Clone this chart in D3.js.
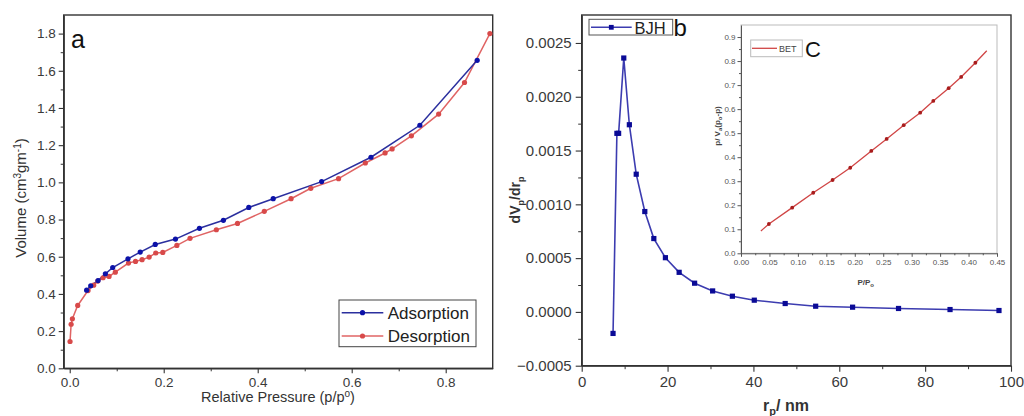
<!DOCTYPE html>
<html><head><meta charset="utf-8">
<script src="https://cdn.jsdelivr.net/npm/d3@7"></script>
<style>
html,body{margin:0;padding:0;background:#fff;}
svg{display:block;font-family:"Liberation Sans",Arial,sans-serif;}
</style></head>
<body><svg id="c" width="1024" height="416"></svg>
<script>
// ---- Panel a: N2 isotherm ----
const adsX = [0.036,0.0447,0.0603,0.0759,0.0915,0.124,0.150,0.182,0.225,0.276,0.327,0.381,0.433,0.536,0.641,0.745,0.867];
const adsY = [0.420,0.444,0.472,0.508,0.542,0.589,0.625,0.666,0.695,0.753,0.796,0.865,0.912,1.004,1.135,1.307,1.656];
const desX = [0.0007,0.003,0.0057,0.017,0.039,0.051,0.0596,0.0709,0.0837,0.097,0.125,0.140,0.154,0.169,0.183,0.198,0.228,0.256,0.312,0.357,0.414,0.471,0.513,0.572,0.629,0.671,0.686,0.727,0.785,0.840,0.894];
const desY = [0.144,0.237,0.266,0.338,0.418,0.447,0.469,0.487,0.494,0.517,0.566,0.575,0.584,0.598,0.620,0.623,0.661,0.699,0.745,0.779,0.844,0.912,0.968,1.020,1.104,1.158,1.180,1.250,1.367,1.537,1.800];
const aXTicks = [0,0.2,0.4,0.6,0.8];
const aYTicks = [0,0.2,0.4,0.6,0.8,1.0,1.2,1.4,1.6,1.8];
const aLegend = ["Adsorption","Desorption"];

// ---- Panel b: BJH pore size distribution ----
const bjhX = [7.3,8.2,8.6,9.8,11.1,12.7,14.7,16.8,19.5,22.7,26.3,30.5,35.1,40.2,47.4,54.5,63.1,73.8,85.8,97.2];
const bjhY = [-0.0002,0.00166,0.00166,0.00236,0.00174,0.00128,0.000933,0.000682,0.000504,0.000368,0.000267,0.000195,0.000146,0.000109,0.000078,0.000053,0.000044,0.000032,0.000022,0.000013];
const bXTicks = [0,20,40,60,80,100];
const bYTicks = [-0.0005,0,0.0005,0.001,0.0015,0.002,0.0025];

// ---- Inset c: BET plot ----
const betX = [0.049,0.090,0.127,0.161,0.192,0.229,0.256,0.286,0.315,0.338,0.365,0.387,0.412];
const betY = [0.122,0.190,0.252,0.305,0.356,0.426,0.476,0.533,0.585,0.634,0.687,0.734,0.793];
const betLineX = [0.035,0.432];
const betLineY = [0.093,0.843];
const cXTicks = [0,0.05,0.10,0.15,0.20,0.25,0.30,0.35,0.40,0.45];
const cYTicks = [0,0.1,0.2,0.3,0.4,0.5,0.6,0.7,0.8,0.9];

const svg = d3.select("#c");
const AX = "#333";

function styleAxis(g, fs, col){
  g.selectAll("path").attr("stroke", AX).attr("stroke-width",1.3);
  g.selectAll("line").attr("stroke", AX).attr("stroke-width",1.1);
  g.selectAll("text").attr("fill", col||"#3a3a3a").style("font-size", fs+"px").attr("font-family",'"Liberation Sans",Arial,sans-serif');
}
function minor(g){ g.selectAll("path").remove(); g.selectAll("text").remove(); g.selectAll("line").attr("stroke",AX).attr("stroke-width",1); }

// ================= Panel a =================
const xA = d3.scaleLinear([-0.0128,0.9],[63.7,492.7]);
const yA = d3.scaleLinear([0,1.9],[368.3,15]);
svg.append("rect").attr("x",63.7).attr("y",15).attr("width",429).attr("height",353.3)
  .attr("fill","none").attr("stroke",AX).attr("stroke-width",1.4);
svg.append("g").attr("transform","translate(0,368.3)")
  .call(d3.axisBottom(xA).tickValues(d3.range(0.1,0.9,0.2)).tickSize(3).tickSizeOuter(0)).call(minor);
svg.append("g").attr("transform","translate(63.7,0)")
  .call(d3.axisLeft(yA).tickValues(d3.range(0.1,1.9,0.2)).tickSize(3).tickSizeOuter(0)).call(minor);
svg.append("g").attr("transform","translate(0,368.3)")
  .call(d3.axisBottom(xA).tickValues(aXTicks).tickFormat(d3.format(".1f")).tickSize(5).tickPadding(4).tickSizeOuter(0))
  .call(g=>styleAxis(g,13.5));
svg.append("g").attr("transform","translate(63.7,0)")
  .call(d3.axisLeft(yA).tickValues(aYTicks).tickFormat(d3.format(".1f")).tickSize(5).tickPadding(3).tickSizeOuter(0))
  .call(g=>styleAxis(g,13.5));

const lineA = d3.line().x(d=>xA(d[0])).y(d=>yA(d[1]));
const ads = adsX.map((x,i)=>[x,adsY[i]]);
const des = desX.map((x,i)=>[x,desY[i]]);
const RED_L = "#e06464", RED_M = "#d84a4a", BLU_L = "#2b2f9e", BLU_M = "#0c12a8";
svg.append("path").datum(des).attr("d",lineA).attr("fill","none").attr("stroke",RED_L).attr("stroke-width",1.5);
svg.append("path").datum(ads).attr("d",lineA).attr("fill","none").attr("stroke",BLU_L).attr("stroke-width",1.5);
svg.append("g").selectAll("circle").data(des).join("circle")
  .attr("cx",d=>xA(d[0])).attr("cy",d=>yA(d[1])).attr("r",2.6).attr("fill",RED_M);
svg.append("g").selectAll("circle").data(ads).join("circle")
  .attr("cx",d=>xA(d[0])).attr("cy",d=>yA(d[1])).attr("r",2.6).attr("fill",BLU_M);

// legend a
svg.append("rect").attr("x",339).attr("y",300).attr("width",137).attr("height",46.7)
  .attr("fill","#fff").attr("stroke","#444").attr("stroke-width",1);
[[BLU_L,BLU_M,312.7,318.5],[RED_L,RED_M,336,341.5]].forEach((r,i)=>{
  svg.append("line").attr("x1",341.7).attr("x2",383.3).attr("y1",r[2]).attr("y2",r[2]).attr("stroke",r[0]).attr("stroke-width",1.5);
  svg.append("circle").attr("cx",362.5).attr("cy",r[2]).attr("r",2.6).attr("fill",r[1]);
  svg.append("text").attr("x",387.7).attr("y",r[3]).text(aLegend[i]).style("font-size","17px").attr("fill","#222");
});
svg.append("text").attr("x",71).attr("y",48).text("a").style("font-size","25px").attr("fill","#111");

// axis labels a
svg.append("text").attr("x",278).attr("y",402).attr("text-anchor","middle").style("font-size","14.5px").attr("fill","#333")
  .call(t=>{t.append("tspan").text("Relative Pressure (p/p");
            t.append("tspan").attr("dy",-5).style("font-size","10px").text("o");
            t.append("tspan").attr("dy",5).text(")");});
svg.append("text").attr("transform","translate(26,198) rotate(-90)").attr("text-anchor","middle").style("font-size","15px").attr("fill","#333")
  .call(t=>{t.append("tspan").text("Volume (cm");
            t.append("tspan").attr("dy",-5).style("font-size","10px").text("3");
            t.append("tspan").attr("dy",5).text("gm");
            t.append("tspan").attr("dy",-5).style("font-size","10px").text("-1");
            t.append("tspan").attr("dy",5).text(")");});

// ================= Panel b =================
const xB = d3.scaleLinear([0,100],[581.7,1011]);
const yB = d3.scaleLinear([-0.0005,0.00276],[365.7,15]);
svg.append("rect").attr("x",581.7).attr("y",15).attr("width",429.3).attr("height",350.7)
  .attr("fill","none").attr("stroke",AX).attr("stroke-width",1.4);
svg.append("g").attr("transform","translate(0,365.7)")
  .call(d3.axisBottom(xB).tickValues(d3.range(10,100,20)).tickSize(3.5).tickSizeOuter(0)).call(minor);
svg.append("g").attr("transform","translate(581.7,0)")
  .call(d3.axisLeft(yB).tickValues(d3.range(-0.00025,0.0027,0.0005)).tickSize(3.5).tickSizeOuter(0)).call(minor);
svg.append("g").attr("transform","translate(0,365.7)")
  .call(d3.axisBottom(xB).tickValues(bXTicks).tickFormat(d3.format("d")).tickSize(6).tickPadding(5).tickSizeOuter(0))
  .call(g=>styleAxis(g,15));
svg.append("g").attr("transform","translate(581.7,0)")
  .call(d3.axisLeft(yB).tickValues(bYTicks).tickFormat(d3.format(".4f")).tickSize(6).tickPadding(4).tickSizeOuter(0))
  .call(g=>styleAxis(g,15));

const bjh = bjhX.map((x,i)=>[x,bjhY[i]]);
const lineB = d3.line().x(d=>xB(d[0])).y(d=>yB(d[1]));
const BJH_L = "#3c3cb0", BJH_M = "#0a0a96";
svg.append("path").datum(bjh).attr("d",lineB).attr("fill","none").attr("stroke",BJH_L).attr("stroke-width",1.6);
svg.append("g").selectAll("rect").data(bjh).join("rect")
  .attr("x",d=>xB(d[0])-2.6).attr("y",d=>yB(d[1])-2.6).attr("width",5.2).attr("height",5.2).attr("fill",BJH_M);

// legend b
svg.append("rect").attr("x",589).attr("y",19.3).attr("width",83.7).attr("height",15.7)
  .attr("fill","#fff").attr("stroke","#555").attr("stroke-width",1);
svg.append("line").attr("x1",591).attr("x2",631.7).attr("y1",27.3).attr("y2",27.3).attr("stroke",BJH_L).attr("stroke-width",1.6);
svg.append("rect").attr("x",611.3-2.4).attr("y",27.3-2.4).attr("width",4.8).attr("height",4.8).attr("fill",BJH_M);
svg.append("text").attr("x",634.5).attr("y",33.5).text("BJH").style("font-size","16.5px").attr("fill","#222");
svg.append("text").attr("x",673.5).attr("y",36).text("b").style("font-size","24px").attr("fill","#111");

// axis labels b
svg.append("text").attr("x",786).attr("y",411).attr("text-anchor","middle").style("font-size","16px").style("font-weight","bold").attr("fill","#333")
  .call(t=>{t.append("tspan").text("r");
            t.append("tspan").attr("dy",4).style("font-size","11px").text("p");
            t.append("tspan").attr("dy",-4).text("/ nm");});
svg.append("text").attr("transform","translate(520,200) rotate(-90)").attr("text-anchor","middle").style("font-size","14px").style("font-weight","bold").attr("fill","#333")
  .call(t=>{t.append("tspan").text("dV");
            t.append("tspan").attr("dy",4).style("font-size","9px").text("p");
            t.append("tspan").attr("dy",-4).text("/dr");
            t.append("tspan").attr("dy",4).style("font-size","9px").text("p");});

// ================= Inset c =================
const xC = d3.scaleLinear([0,0.45],[741,997]);
const yC = d3.scaleLinear([0,0.95],[253.3,25]);
svg.append("rect").attr("x",741).attr("y",25).attr("width",256).attr("height",228.3)
  .attr("fill","none").attr("stroke","#bbb").attr("stroke-width",1);
svg.append("g").attr("transform","translate(0,253.3)")
  .call(d3.axisBottom(xC).tickValues(d3.range(0.025,0.45,0.05)).tickSize(2).tickSizeOuter(0)).call(minor)
  .selectAll("line").attr("stroke","#555");
svg.append("g").attr("transform","translate(741,0)")
  .call(d3.axisLeft(yC).tickValues(d3.range(0.05,0.95,0.1)).tickSize(2).tickSizeOuter(0)).call(minor)
  .selectAll("line").attr("stroke","#555");
svg.append("g").attr("transform","translate(0,253.3)")
  .call(d3.axisBottom(xC).tickValues(cXTicks).tickFormat(d3.format(".2f")).tickSize(3.5).tickPadding(3).tickSizeOuter(0))
  .call(g=>{styleAxis(g,8,"#555"); g.selectAll("path,line").attr("stroke","#555").attr("stroke-width",1);});
svg.append("g").attr("transform","translate(741,0)")
  .call(d3.axisLeft(yC).tickValues(cYTicks).tickFormat(d3.format(".1f")).tickSize(3.5).tickPadding(2).tickSizeOuter(0))
  .call(g=>{styleAxis(g,8,"#555"); g.selectAll("path,line").attr("stroke","#555").attr("stroke-width",1);});

const bet = betX.map((x,i)=>[x,betY[i]]);
const betLine = [[betLineX[0],betLineY[0]]].concat(bet,[[betLineX[1],betLineY[1]]]);
const lineC = d3.line().x(d=>xC(d[0])).y(d=>yC(d[1]));
const BET_L = "#d04545", BET_M = "#a81c1c";
svg.append("path").datum(betLine).attr("d",lineC).attr("fill","none").attr("stroke",BET_L).attr("stroke-width",1.3);
svg.append("g").selectAll("circle").data(bet).join("circle")
  .attr("cx",d=>xC(d[0])).attr("cy",d=>yC(d[1])).attr("r",1.9).attr("fill",BET_M);

// legend c
svg.append("rect").attr("x",750.7).attr("y",40).attr("width",51.6).attr("height",16.7)
  .attr("fill","#fff").attr("stroke","#bbb").attr("stroke-width",1);
svg.append("line").attr("x1",752).attr("x2",777).attr("y1",48.3).attr("y2",48.3).attr("stroke",BET_L).attr("stroke-width",1.3);
svg.append("text").attr("x",779).attr("y",51.6).text("BET").style("font-size","9px").attr("fill","#444");
svg.append("text").attr("x",805).attr("y",57).text("C").style("font-size","22px").attr("fill","#111");

svg.append("text").attr("x",865.7).attr("y",284.5).attr("text-anchor","middle").style("font-size","8px").style("font-weight","bold").attr("fill","#444")
  .call(t=>{t.append("tspan").text("P/P");
            t.append("tspan").attr("dy",2).style("font-size","6px").text("o");});
svg.append("text").attr("transform","translate(719.5,126) rotate(-90)").attr("text-anchor","middle").style("font-size","8px").style("font-weight","bold").attr("fill","#444")
  .call(t=>{t.append("tspan").text("p/ V");
            t.append("tspan").attr("dy",2).style("font-size","6px").text("a");
            t.append("tspan").attr("dy",-2).text("(p");
            t.append("tspan").attr("dy",2).style("font-size","6px").text("o");
            t.append("tspan").attr("dy",-2).text("-p)");});
</script></body></html>
